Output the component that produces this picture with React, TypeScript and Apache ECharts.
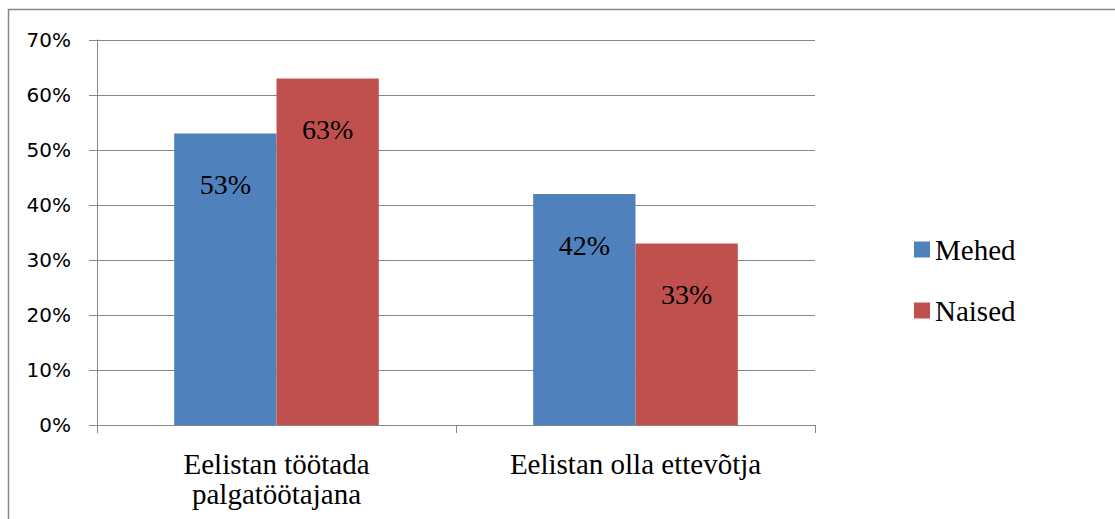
import React, { useEffect, useRef } from "react";
import * as echarts from "echarts";

const categories = ["Eelistan töötada\npalgatöötajana", "Eelistan olla ettevõtja"];
const seriesNames = ["Mehed", "Naised"];
const meheValues = [53, 42];
const naisedValues = [63, 33];
const yTicks = [0, 10, 20, 30, 40, 50, 60, 70];

const SERIF = "Liberation Serif";
const SANS = "DejaVu Sans";

export default function App() {
  const ref = useRef<HTMLDivElement>(null);
  useEffect(() => {
    if (!ref.current) return;
    const chart = echarts.init(ref.current, undefined, { renderer: "svg" });
    const label = {
      show: true,
      position: "insideTop",
      distance: 37,
      formatter: (p: any) => p.value + "%",
      color: "#000",
      fontFamily: SERIF,
      fontSize: 28,
    };
    chart.setOption({
      animation: false,
      backgroundColor: "#fff",
      textStyle: { fontFamily: SERIF },
      graphic: [
        {
          type: "rect",
          shape: { x: 8.5, y: 9.5, width: 1120, height: 520 },
          style: { fill: "none", stroke: "#868686", lineWidth: 1.5 },
          silent: true,
        },
      ],
      grid: { left: 97, right: 300, top: 40, bottom: 94, containLabel: false },
      legend: {
        orient: "vertical",
        left: 909,
        top: 230,
        itemWidth: 16,
        itemHeight: 16,
        itemGap: 32,
        icon: "rect",
        data: seriesNames,
        textStyle: { fontFamily: SERIF, fontSize: 29, color: "#000", lineHeight: 29 },
      },
      xAxis: {
        type: "category",
        data: categories,
        axisLine: { lineStyle: { color: "#868686", width: 1 } },
        axisTick: { show: true, length: 8, lineStyle: { color: "#868686" } },
        axisLabel: {
          fontFamily: SERIF,
          fontSize: 29,
          color: "#000",
          lineHeight: 30,
          margin: 24,
          interval: 0,
        },
      },
      yAxis: {
        type: "value",
        min: 0,
        max: 70,
        interval: 10,
        axisLine: { show: true, lineStyle: { color: "#868686", width: 1 } },
        axisTick: { show: true, inside: false, length: 8, lineStyle: { color: "#868686" } },
        splitLine: { show: true, lineStyle: { color: "#868686", width: 1 } },
        axisLabel: {
          fontFamily: SANS,
          fontSize: 20,
          color: "#000",
          margin: 26,
          formatter: (v: number) => (yTicks.includes(v) ? v + "%" : ""),
        },
      },
      series: [
        {
          name: seriesNames[0],
          type: "bar",
          data: meheValues,
          barGap: "0%",
          barCategoryGap: "43%",
          itemStyle: { color: "#4F81BD" },
          label,
        },
        {
          name: seriesNames[1],
          type: "bar",
          data: naisedValues,
          barGap: "0%",
          barCategoryGap: "43%",
          itemStyle: { color: "#C0504D" },
          label,
        },
      ],
    });
    return () => chart.dispose();
  }, []);
  return <div ref={ref} style={{ width: 1115, height: 519, position: "absolute", left: 0, top: 0 }} />;
}
